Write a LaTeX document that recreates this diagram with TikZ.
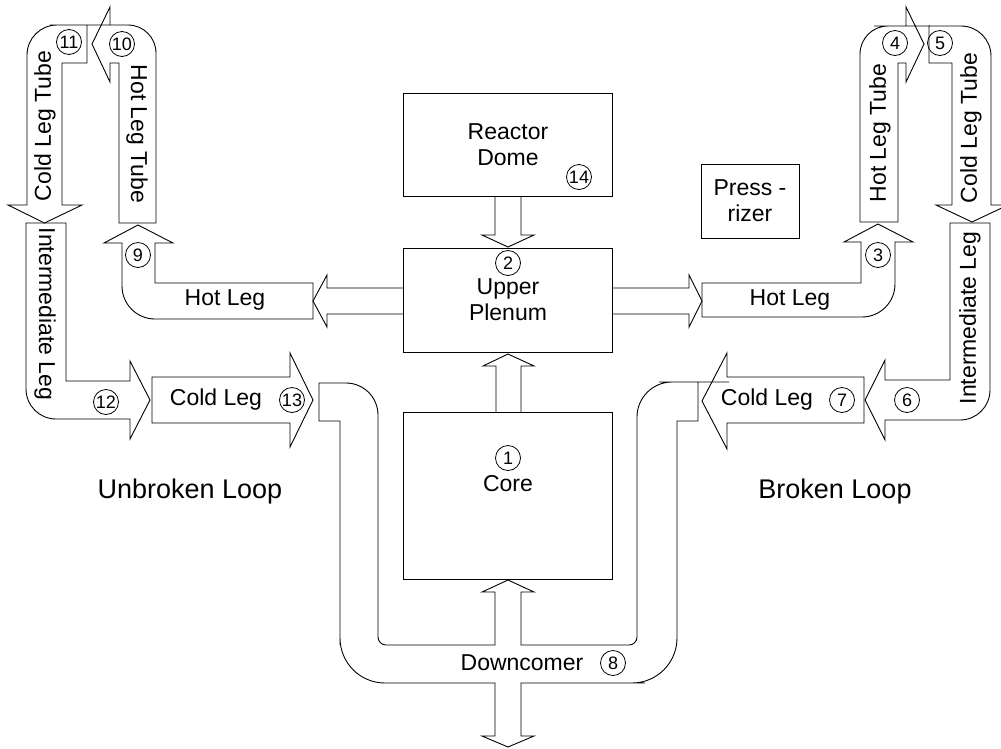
\documentclass[tikz,border=0pt]{standalone}
\usepackage{fontspec}
\setmainfont{Liberation Sans}
\begin{document}
\begin{tikzpicture}[x=1pt,y=-1pt,
  pipe/.style={draw, line width=0.9pt, line join=miter},
  box/.style={draw, line width=0.9pt, rectangle, inner sep=0pt},
  lbl/.style={font=\fontsize{23}{26}\selectfont, inner sep=0pt, align=center},
  big/.style={font=\fontsize{27}{30}\selectfont, inner sep=0pt},
  num/.style={draw, circle, line width=0.8pt, minimum size=25pt, inner sep=0pt, font=\fontsize{18}{18}\selectfont}]
\useasboundingbox (0,0) rectangle (1001,748);
\clip (0,0) rectangle (1001,748);

% boxes
\node[box, minimum width=209pt, minimum height=103pt] (dome) at (507.5,144.5) {};
\node[box, minimum width=209pt, minimum height=104pt] (plenum) at (507.5,300) {};
\node[box, minimum width=209pt, minimum height=167pt] (core) at (507.5,495.5) {};
\node[box, minimum width=98pt, minimum height=74pt] (press) at (750,201) {};

% center arrows
\draw[pipe] (495,196) -- (495,235) -- (482,235) -- (508,247) -- (534,235) -- (521,235) -- (521,196);
\draw[pipe] (496,412) -- (496,366) -- (483,366) -- (508,354) -- (534,366) -- (521,366) -- (521,412);
\draw[pipe] (403,288) -- (327,288) -- (327,275) -- (313,301) -- (327,327) -- (327,314) -- (403,314);
\draw[pipe] (612,288) -- (689,288) -- (689,275) -- (702,301) -- (689,327) -- (689,314) -- (612,314);

% left loop
\draw[pipe] (313,283) -- (155,283) -- (155,243) -- (173,243) -- (138,225) -- (104,243) -- (122,243) -- (122,270) [rounded corners=33pt] -- (122,319) -- (200,319) [sharp corners] -- (313,319) -- cycle;
\draw[pipe] (119,223) -- (119,63) -- (110,63) -- (110,82) -- (92,44) -- (110,7) -- (110,25) -- (114,25) [rounded corners=28pt] -- (156,25) -- (156,100) [sharp corners] -- (156,223) -- cycle;
\draw[pipe] (87,25) -- (87,63) -- (62,63) -- (62,205) -- (82,205) -- (44.5,223) -- (8,205) -- (27,205) -- (27,100) [rounded corners=30pt] -- (27,25) -- (80,25) [sharp corners] -- cycle;
\draw[pipe] (26,223) -- (66,223) -- (66,381) -- (130,381) -- (130,361) -- (150,400) -- (130,439) -- (130,419) -- (80,419) [rounded corners=30pt] -- (26,419) -- (26,350) [sharp corners] -- cycle;
\draw[pipe] (152,377) -- (290,377) -- (290,353) -- (313,400) -- (290,447) -- (290,423) -- (152,423) -- cycle;

% right loop
\draw[pipe] (702,283) -- (861,283) -- (861,242) -- (844,242) -- (878,224) -- (913,242) -- (895,242) -- (895,270) [rounded corners=33pt] -- (895,317) -- (800,317) [sharp corners] -- (702,317) -- cycle;
\draw[pipe] (898,222) -- (860,222) -- (860,100) [rounded corners=28pt] -- (860,26) -- (902,26) [sharp corners] -- (906,26) -- (906,7) -- (924,44) -- (906,82) -- (906,63) -- (898,63) -- cycle;
\draw[pipe] (929,26) -- (935,26) [rounded corners=30pt] -- (991,26) -- (991,100) [sharp corners] -- (991,205) -- (1008,205) -- (972,222) -- (936,205) -- (952,205) -- (952,63) -- (929,63) -- cycle;
\draw[pipe] (950,223) -- (990,223) -- (990,350) [rounded corners=30pt] -- (990,420) -- (930,420) [sharp corners] -- (885,420) -- (885,440) -- (865,400) -- (885,360) -- (885,380) -- (950,380) -- cycle;
\draw[pipe] (864,377) -- (727,377) -- (727,353) -- (702,401) -- (727,449) -- (727,423) -- (864,423) -- cycle;

% downcomer
\draw[pipe] (319,383) -- (322,383) [rounded corners=32pt] -- (378,383) -- (378,450) [rounded corners=8pt] -- (378,645) -- (430,645) [sharp corners] -- (495,645) -- (495,592) -- (482,592) -- (508,580) -- (534,592) -- (521,592) -- (521,645) -- (580,645) [rounded corners=8pt] -- (637,645) -- (637,450) [rounded corners=35pt] -- (637,382) -- (694,382) [sharp corners] -- (698,382) -- (698,421) -- (677,421) -- (677,500) [rounded corners=45pt] -- (677,683) -- (600,683) [sharp corners] -- (521,683) -- (521,736) -- (534,736) -- (508,747) -- (482,736) -- (495,736) -- (495,683) -- (420,683) [rounded corners=45pt] -- (340,683) -- (340,600) [sharp corners] -- (340,421) -- (319,421) -- cycle;

% labels
\node[lbl] (tdome) at (508,145) {Reactor\\Dome};
\node[num] (n14) at (579,177) {14};
\node[num] (n2) at (508,263) {2};
\node[lbl] (tplen) at (508,300) {Upper\\Plenum};
\node[num] (n1) at (508,458) {1};
\node[lbl] (tcore) at (508,484) {Core};
\node[lbl] (tpress) at (750,201) {Press -\\rizer};

\node[lbl] (thll) at (225,300) {Hot Leg};
\node[num] (n9) at (138,255) {9};
\node[lbl, rotate=-90] (thtl) at (137,134) {Hot Leg Tube};
\node[num] (n10) at (122,44) {10};
\node[lbl, rotate=90] (tctl) at (45,126) {Cold Leg Tube};
\node[num] (n11) at (69,42) {11};
\node[lbl, rotate=-90] (til) at (45,314) {Intermediate Leg};
\node[num] (n12) at (106,402) {12};
\node[lbl] (tcll) at (216,400) {Cold Leg};
\node[num] (n13) at (292,400) {13};

\node[lbl] (thlr) at (790,300) {Hot Leg};
\node[num] (n3) at (878,255) {3};
\node[lbl, rotate=90] (thtr) at (880,133) {Hot Leg Tube};
\node[num] (n4) at (895,43) {4};
\node[lbl, rotate=90] (tctr) at (971,128) {Cold Leg Tube};
\node[num] (n5) at (940,43) {5};
\node[lbl, rotate=90] (tir) at (970,318) {Intermediate Leg};
\node[num] (n6) at (907,400) {6};
\node[lbl] (tclr) at (767,400) {Cold Leg};
\node[num] (n7) at (842,400) {7};

\node[lbl] (tdc) at (522,663) {Downcomer};
\node[num] (n8) at (613,663) {8};

\node[big] (tub) at (190,492) {Unbroken Loop};
\node[big] (tbl) at (835,492) {Broken Loop};
\end{tikzpicture}
\end{document}
